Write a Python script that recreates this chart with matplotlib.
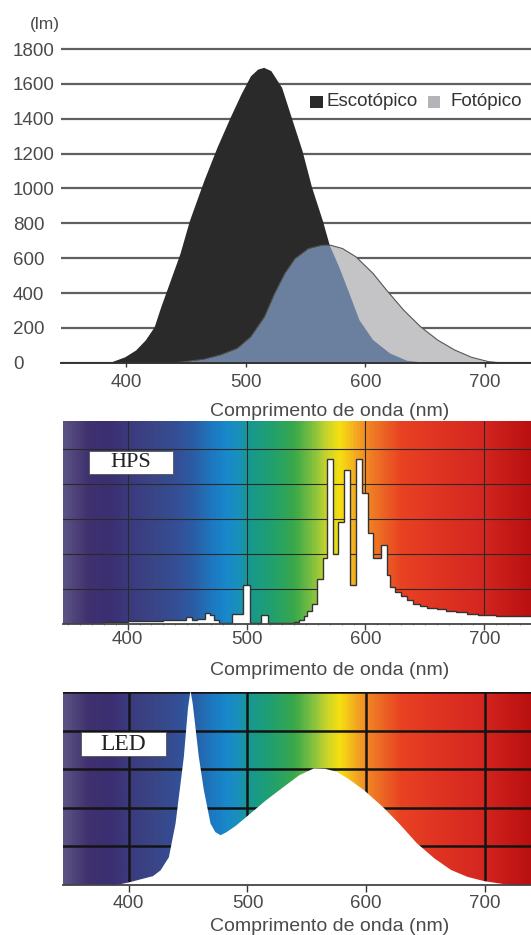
import numpy as np
import matplotlib
matplotlib.use('Agg')
import matplotlib.pyplot as plt
from matplotlib.colors import LinearSegmentedColormap
from matplotlib.patches import Rectangle

plt.rcParams['font.family'] = ['Liberation Sans', 'DejaVu Sans']

# ---- data ----
# curvas de luminosidade (lm)
escot_nm = [388, 399, 408, 416, 423.5, 429, 436, 445, 453, 465, 476, 487, 496, 504, 510, 515,
            521, 530, 538, 547, 555, 564, 569.5, 578, 586.6, 595, 606.4, 620.6, 634.8, 650]
escot_lm = [6, 34, 73, 130, 206, 321, 454, 626, 817, 1046, 1237, 1409, 1542, 1647, 1685, 1695,
            1676, 1580, 1409, 1218, 1008, 817, 683, 550, 397, 244, 130, 53, 11, 0]
fotop_nm = [442, 464.6, 478.8, 493, 504.3, 515.7, 524.2, 532.7, 541.2, 552.5, 563.9, 571,
            580.9, 592.2, 606.4, 617.7, 631.9, 646.1, 660.3, 674.5, 688.6, 702.8, 711.3]
fotop_lm = [0, 19, 44, 82, 149, 263, 397, 512, 597, 655, 674, 674,
            655, 607, 512, 416, 302, 206, 130, 73, 31, 6, 0]

# espectro HPS (degraus)
hps_edges = [380, 390, 400, 410, 420, 430, 440, 449, 454, 458, 465, 469, 473, 477, 482, 488,
             497, 503, 512, 518, 530, 540, 544, 548, 551, 555, 559, 564, 567.5, 573, 577, 582,
             587, 592, 597, 602, 606, 613, 618, 621, 625, 630, 635, 640, 646, 652, 660, 668,
             676, 685, 695, 710, 725, 740]
hps_vals = [0.05, 0.06, 0.07, 0.08, 0.09, 0.10, 0.12, 0.19, 0.12, 0.13, 0.32, 0.26, 0.12, 0.04,
            0.02, 0.27, 1.10, 0.04, 0.25, 0.03, 0.03, 0.05, 0.10, 0.22, 0.38, 0.58, 1.30, 1.88,
            4.72, 2.00, 2.93, 4.40, 1.10, 4.72, 3.75, 2.60, 1.90, 2.25, 1.40, 1.05, 0.92, 0.80,
            0.68, 0.58, 0.52, 0.46, 0.42, 0.38, 0.33, 0.29, 0.26, 0.24, 0.22]

# espectro LED
led_nm = [388, 400, 410, 420, 426.4, 433.4, 439, 446, 449.5, 451.6, 453.5, 458.6, 462.9, 468.5,
          472.5, 476.9, 482, 490, 502, 515, 530, 543, 555.5, 565, 575, 585, 598, 614, 628, 642,
          657, 671, 685, 699, 714, 722]
led_val = [0, 0.08, 0.16, 0.24, 0.39, 0.73, 1.6, 3.33, 4.6, 5.05, 4.7, 3.33, 2.46, 1.6,
           1.38, 1.3, 1.38, 1.55, 1.86, 2.2, 2.55, 2.85, 3.03, 3.02, 2.94, 2.75, 2.46, 2.02, 1.58, 1.1,
           0.7, 0.4, 0.22, 0.11, 0.04, 0]

y_ticks = [0, 200, 400, 600, 800, 1000, 1200, 1400, 1600, 1800]
x_ticks = [400, 500, 600, 700]

# cores do fundo (espectro visivel)
spec_nm = [345, 365, 385, 400, 420, 440, 455, 470, 482, 492, 502, 520, 540, 555, 566, 578,
           590, 600, 615, 630, 660, 700, 720, 740]
spec_col = ['#5b5383', '#40316f', '#3b2f72', '#3b3a7e', '#3a4586', '#344e95', '#2a5ea5', '#1d78c0',
            '#1888cc', '#1a90bc', '#17988f', '#20a070', '#3aa84a', '#80c040', '#c4d22e', '#f6e010',
            '#f4b020', '#f18a25', '#ec6424', '#e84222', '#e03422', '#d42620', '#c61a18', '#b81010']

W, H = 531, 935
fig = plt.figure(figsize=(W / 100, H / 100), dpi=100)
txt = '#4a4a4a'

cmap = LinearSegmentedColormap.from_list(
    'spec', [((n - 345) / (740 - 345), c) for n, c in zip(spec_nm, spec_col)])


def rect(l, t, r, b):
    return [l / W, 1 - b / H, (r - l) / W, (b - t) / H]


# ---- grafico 1: escotopico x fotopico ----
ax1 = fig.add_axes(rect(61, 40, 531, 362.7))
ax1.set_xlim(345.7, 738.3)
ax1.set_ylim(0, 1852)
ax1.set_axisbelow(True)
s = ax1.fill_between(escot_nm, escot_lm, color='#2a2a2a', lw=0, zorder=2)
ax1.fill_between(fotop_nm, fotop_lm, color='#c4c4c6', lw=0, zorder=3)
b = ax1.fill_between(fotop_nm, fotop_lm, color='#6b7f9e', lw=0, zorder=4)
b.set_clip_path(s.get_paths()[0], ax1.transData)
ax1.plot(fotop_nm, fotop_lm, color='#555555', lw=0.8, zorder=5)
ax1.set_yticks(y_ticks)
ax1.set_yticklabels([str(v) for v in y_ticks], ha='left')
ax1.yaxis.grid(True, color='#606060', lw=1.6)
ax1.tick_params(axis='y', length=0, pad=48 * 0.72, labelsize=13.5, labelcolor=txt)
ax1.set_xticks(x_ticks)
ax1.tick_params(axis='x', length=3, width=1, color='#333333', pad=5, labelsize=13.5, labelcolor=txt)
for sp in ['left', 'right', 'top']:
    ax1.spines[sp].set_visible(False)
ax1.spines['bottom'].set_color('#333333')
ax1.spines['bottom'].set_linewidth(1.4)
ax1.spines['bottom'].set_zorder(6)

fig.text(44.5 / W, 1 - 25 / H, '(lm)', ha='center', va='center', fontsize=12.5, color=txt)
fig.text(330 / W, 1 - 412 / H, 'Comprimento de onda (nm)', ha='center', va='center',
         fontsize=14, color=txt)

# legenda
fig.add_artist(Rectangle((310 / W, 1 - 108 / H), 13 / W, 12 / H, transform=fig.transFigure,
                         facecolor='#2a2a2a', edgecolor='none'))
fig.text(326 / W, 1 - 102 / H, 'Escotópico', ha='left', va='center', fontsize=13.5, color='#333333')
fig.add_artist(Rectangle((428 / W, 1 - 108 / H), 12 / W, 12 / H, transform=fig.transFigure,
                         facecolor='#b4b4b8', edgecolor='none'))
fig.text(451 / W, 1 - 102 / H, 'Fotópico', ha='left', va='center', fontsize=13.5, color='#333333')


def spectrum_axes(r, ylim, grid_col, grid_lw, xlim):
    ax = fig.add_axes(r)
    grad = np.linspace(0, 1, 400).reshape(1, -1)
    ax.imshow(grad, cmap=cmap, aspect='auto', extent=[345, 740, 0, ylim], zorder=0,
              interpolation='bilinear')
    ax.set_xlim(*xlim)
    ax.set_ylim(0, ylim)
    for yv in range(1, int(ylim) + 1):
        ax.axhline(yv, color=grid_col, lw=grid_lw, zorder=1)
    for xv in x_ticks:
        ax.axvline(xv, color=grid_col, lw=grid_lw, zorder=1)
    ax.set_xticks(x_ticks)
    ax.set_yticks([])
    for sp in ['left', 'right', 'top']:
        ax.spines[sp].set_visible(False)
    ax.spines['bottom'].set_color('#444444')
    ax.spines['bottom'].set_linewidth(1.3)
    ax.spines['bottom'].set_zorder(6)
    return ax


# ---- grafico 2: HPS ----
ax2 = spectrum_axes(rect(62.6, 421, 531, 623.9), 5.81, '#2a2a2a', 0.8, (345.25, 739.2))
ax2.stairs(hps_vals, hps_edges, fill=True, color='white', zorder=2)
ax2.stairs(hps_vals, hps_edges, color='#333333', lw=1.0, zorder=3)
ax2.set_xticks(np.arange(350, 740, 10), minor=True)
ax2.tick_params(axis='x', which='major', length=4, width=1, color='#444444', pad=1,
                labelsize=13.5, labelcolor=txt)
ax2.tick_params(axis='x', which='minor', length=2, width=0.6, color='#888888', direction='inout')
fig.add_artist(Rectangle((88.7 / W, 1 - 474.2 / H), 84 / W, 23.7 / H, transform=fig.transFigure,
                         facecolor='white', edgecolor='#555555', lw=0.6))
fig.text(130.7 / W, 1 - 462.5 / H, 'HPS', ha='center', va='center', fontsize=16,
         family=['Liberation Serif', 'DejaVu Serif'], color='#222222')
fig.text(330 / W, 1 - 670.6 / H, 'Comprimento de onda (nm)', ha='center', va='center',
         fontsize=14, color=txt)

# ---- grafico 3: LED ----
ax3 = spectrum_axes(rect(62.6, 691.9, 531, 884.9), 5, '#141414', 1.8, (344.3, 738.8))
ax3.fill_between(led_nm, led_val, color='white', lw=0, zorder=2)
ax3.tick_params(axis='x', length=5, width=1, color='#333333', pad=2.5,
                labelsize=13.5, labelcolor=txt)
fig.add_artist(Rectangle((81.3 / W, 1 - 756.2 / H), 84.6 / W, 24.7 / H, transform=fig.transFigure,
                         facecolor='white', edgecolor='#555555', lw=0.6))
fig.text(123.6 / W, 1 - 744 / H, 'LED', ha='center', va='center', fontsize=17,
         family=['Liberation Serif', 'DejaVu Serif'], color='#222222')
fig.text(330 / W, 1 - 926.5 / H, 'Comprimento de onda (nm)', ha='center', va='center',
         fontsize=14, color=txt)

fig.savefig('out.png', dpi=100)
